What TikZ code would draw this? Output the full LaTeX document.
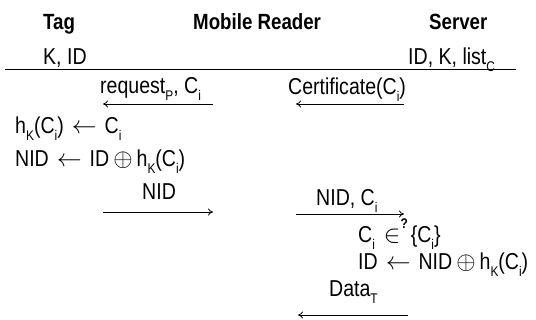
\documentclass[tikz,border=0pt]{standalone}
\usepackage{fontspec}
\setmainfont{Liberation Sans}[FakeStretch=0.85]
\usetikzlibrary{arrows.meta}
% lowered small index, as used for keys and identifiers
\newcommand\lo[1]{\raisebox{-0.5ex}{\fontsize{14}{14}\selectfont #1}}
% operators with the spacing used in the protocol lines
\newcommand\getsop{\hspace{8pt}$\leftarrow$\hspace{8pt}}
\newcommand\xorop{\hspace{4pt}$\oplus$\hspace{4pt}}
\newcommand\inop{\hspace{9pt}$\in$\raisebox{1.2ex}{\fontsize{14}{14}\selectfont\bfseries ?}\hspace{3pt}}
\begin{document}
\begin{tikzpicture}[x=1pt,y=-1pt,
  txt/.style={anchor=base west, inner sep=0pt, font=\fontsize{23}{26}\selectfont},
  hdr/.style={anchor=base west, inner sep=0pt, font=\fontsize{22}{26}\selectfont\bfseries},
  msg/.style={line width=0.8pt, -{To[length=5pt,width=7pt]}}]
\useasboundingbox (0,0) rectangle (536,320);

% parties and their stored values
\node[hdr] (tag) at (43,30) {Tag};
\node[hdr] (rdr) at (193,30) {Mobile Reader};
\node[hdr] (srv) at (429,30) {Server};
\node[txt] (tk) at (43,65) {K, ID};
\node[txt] (sk) at (408,65) {ID, K, list\lo{C}};
\coordinate (r1) at (5,69);
\coordinate (r2) at (516,69);
\draw[line width=0.8pt] (r1) -- (r2);

% reader -> tag: request
\node[txt] (req) at (100,94) {request\lo{P}, C\lo{i}};
\coordinate (a1s) at (213,104);
\coordinate (a1e) at (103,104);
\draw[msg] (a1s) -- (a1e);

% server -> reader: certificate
\node[txt] (cert) at (288,95) {Certificate(C\lo{i})};
\coordinate (a2s) at (404,104);
\coordinate (a2e) at (296,104);
\draw[msg] (a2s) -- (a2e);

% tag computation
\node[txt] (h1) at (15,134) {h\lo{K}(C\lo{i})\getsop C\lo{i}};
\node[txt] (h2) at (15,167) {NID\getsop ID\xorop h\lo{K}(C\lo{i})};

% tag -> reader
\node[txt] (nid) at (142,200) {NID};
\coordinate (a3s) at (103,212);
\coordinate (a3e) at (213,212);
\draw[msg] (a3s) -- (a3e);

% reader -> server
\node[txt] (nidc) at (316,206) {NID, C\lo{i}};
\coordinate (a4s) at (296,214);
\coordinate (a4e) at (404,214);
\draw[msg] (a4s) -- (a4e);

% server computation
\node[txt] (chk) at (358,243) {C\lo{i}\inop\{C\lo{i}\}};
\node[txt] (idr) at (358,270) {ID\getsop NID\xorop h\lo{K}(C\lo{i})};

% server -> reader: data
\node[txt] (data) at (329,297) {Data\lo{T}};
\coordinate (a5s) at (408,315);
\coordinate (a5e) at (298,315);
\draw[msg] (a5s) -- (a5e);
\end{tikzpicture}
\end{document}
